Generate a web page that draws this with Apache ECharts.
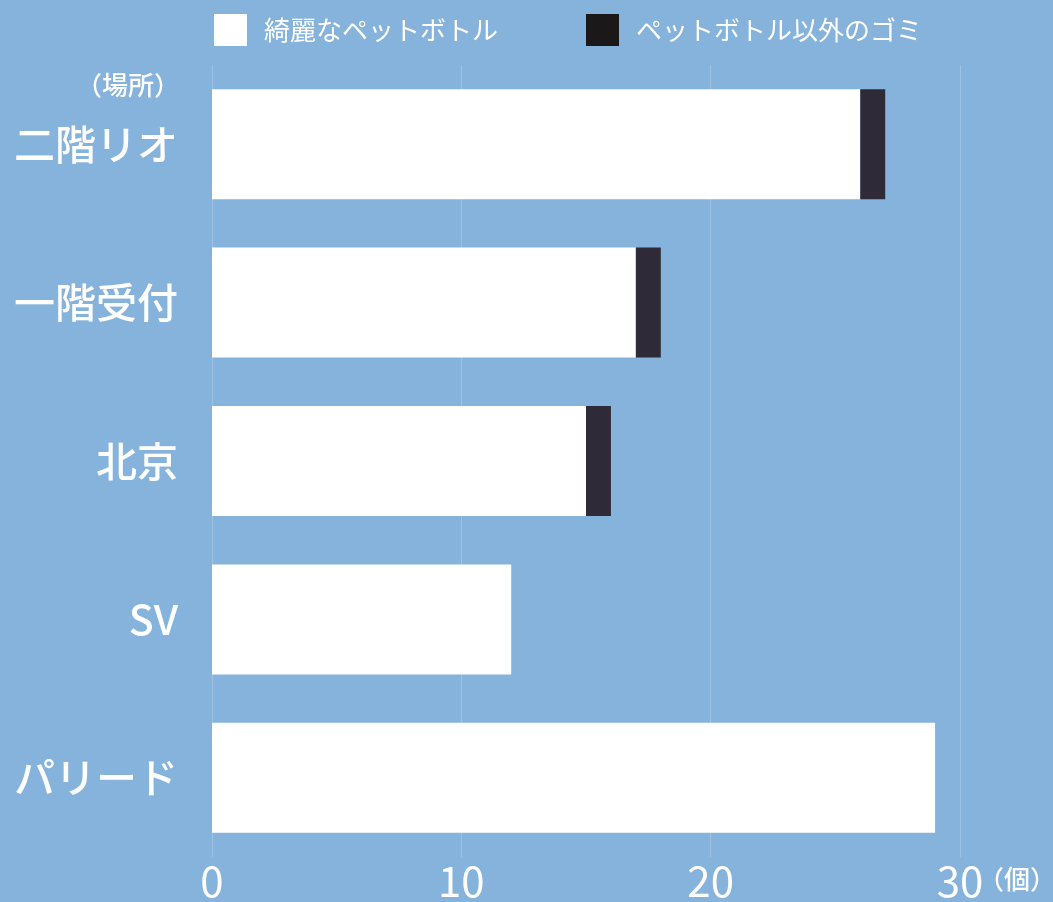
<!DOCTYPE html>
<html>
<head>
<meta charset="utf-8">
<script src="https://cdn.jsdelivr.net/npm/echarts@6/dist/echarts.min.js"></script>
<style>
  html, body { margin: 0; padding: 0; background: #85b3dc; }
  #chart { width: 1053px; height: 902px; }
</style>
</head>
<body>
<div id="chart"></div>
<script>
  // 場所ごとのゴミ数
  const places = ['二階リオ', '一階受付', '北京', 'SV', 'パリード']
  const cleanBottles = [26, 17, 15, 12, 29]
  const otherTrash = [1, 1, 1, 0, 0]
  const xTicks = [0, 10, 20, 30]

  const font = '"Noto Sans CJK JP", "Noto Sans", sans-serif'
  const myChart = echarts.init(document.getElementById('chart'))

  myChart.setOption({
    backgroundColor: '#85b3dc',
    animation: false,
    legend: {
      left: 209,
      top: 9,
      itemWidth: 33,
      itemHeight: 32,
      itemGap: 88,
      icon: 'rect',
      textStyle: { color: '#fff', fontSize: 26, fontFamily: font, padding: [0, 0, 0, 12] },
      data: [
        { name: '綺麗なペットボトル', itemStyle: { color: '#fff' } },
        { name: 'ペットボトル以外のゴミ', itemStyle: { color: '#1a1818' } }
      ]
    },
    grid: { left: 212, right: 93, top: 65, bottom: 40 },
    xAxis: {
      type: 'value',
      min: xTicks[0],
      max: xTicks[xTicks.length - 1],
      interval: 10,
      axisLine: { show: false },
      axisTick: { show: false },
      splitLine: { lineStyle: { color: 'rgba(255,255,255,0.2)', width: 1 } },
      axisLabel: { color: '#fff', fontSize: 42, fontFamily: font, margin: 3 }
    },
    yAxis: {
      type: 'category',
      inverse: true,
      data: places,
      axisLine: { show: false },
      axisTick: { show: false },
      axisLabel: { color: '#fff', fontSize: 41, fontWeight: 500, fontFamily: font, margin: 34 }
    },
    graphic: [
      { type: 'text', right: 873, top: 72, style: { text: '（場所）', fill: '#fff', font: '500 26px ' + font } },
      { type: 'text', left: 978, top: 866, style: { text: '（個）', fill: '#fff', font: '500 26px ' + font } }
    ],
    series: [
      {
        name: '綺麗なペットボトル',
        type: 'bar',
        stack: 'total',
        barWidth: 110,
        itemStyle: { color: '#fff' },
        data: cleanBottles
      },
      {
        name: 'ペットボトル以外のゴミ',
        type: 'bar',
        stack: 'total',
        barWidth: 110,
        itemStyle: { color: '#2e2a37' },
        data: otherTrash
      }
    ]
  })
</script>
</body>
</html>
